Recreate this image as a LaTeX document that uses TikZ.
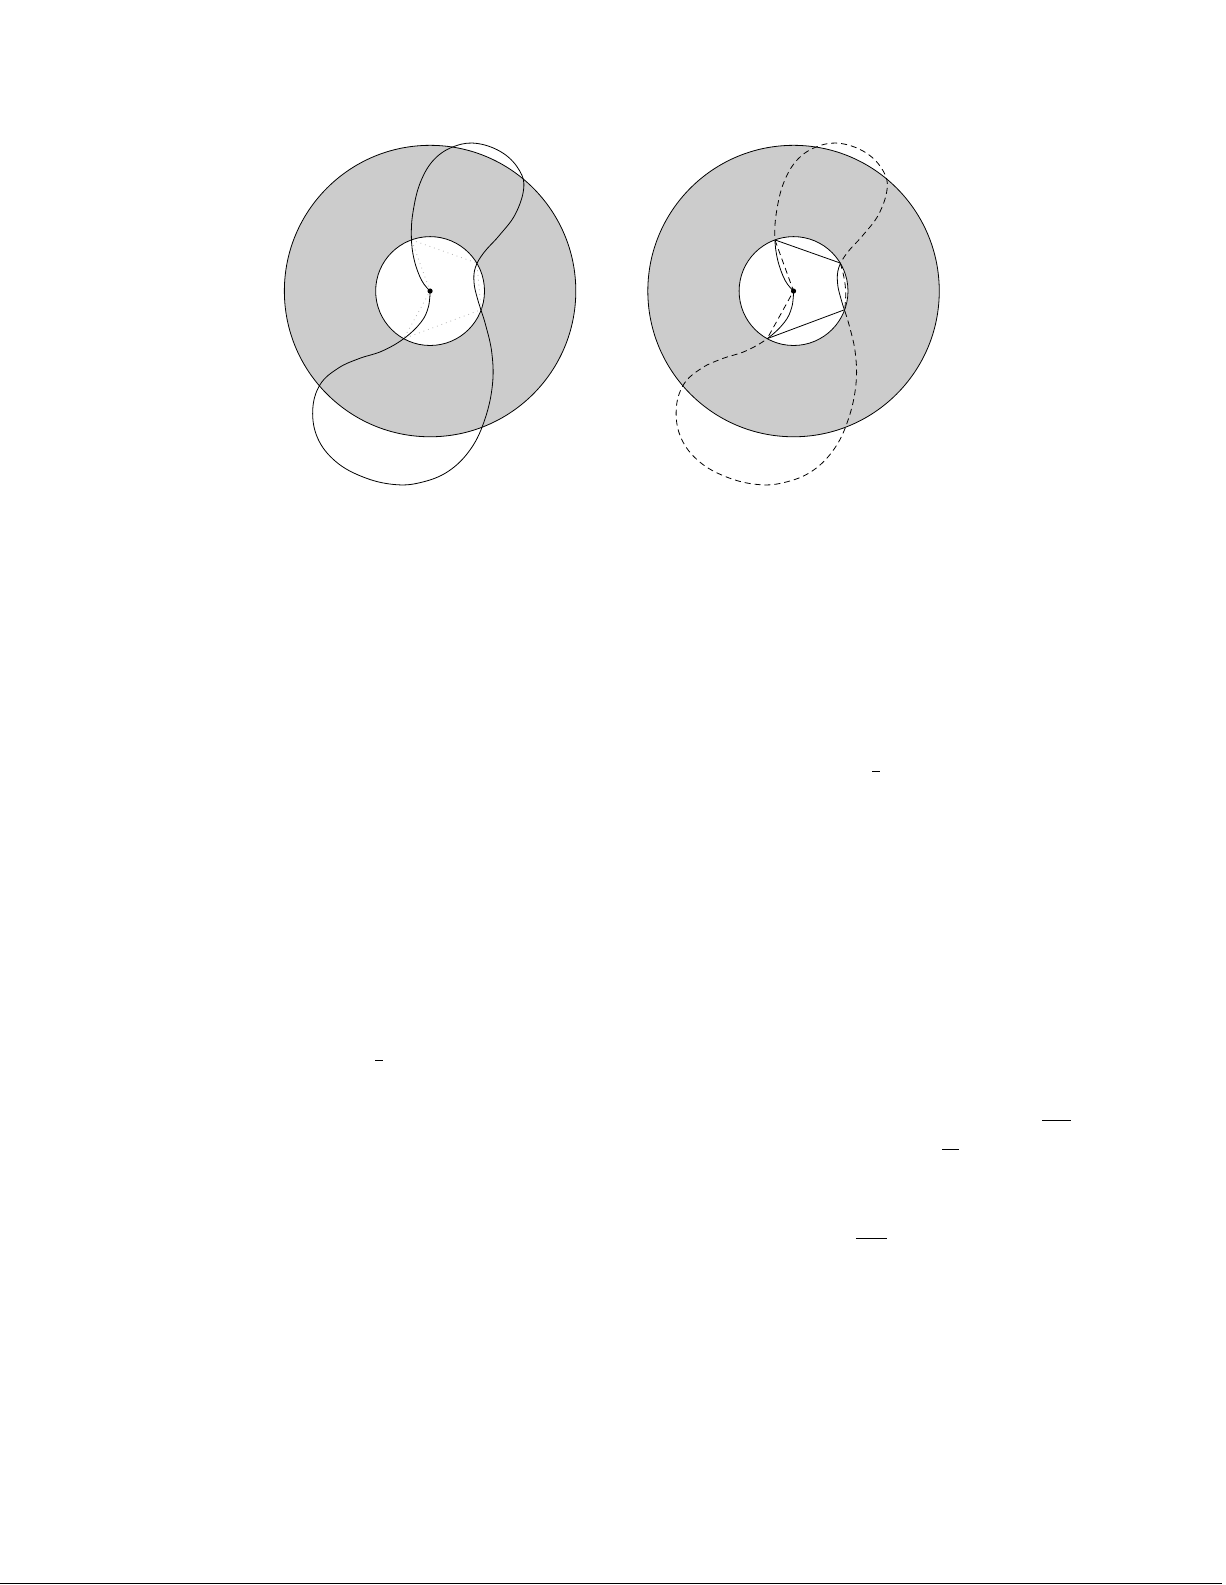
\documentclass[tikz,border=0pt]{standalone}
\definecolor{ringgray}{gray}{0.8}
% the closed curve through the centre, drawn around each annulus
\newcommand{\windcurve}{plot[smooth, tension=0.65] coordinates {(0,0) (-0.15,0.19) (-0.28,0.55) (-0.33,0.95) (-0.30,1.40) (-0.17,1.92) (0.08,2.33) (0.45,2.56) (0.85,2.60) (1.29,2.43) (1.58,2.12) (1.65,1.80) (1.50,1.35) (1.22,0.98) (0.95,0.68) (0.80,0.42) (0.775,0.15) (0.84,-0.15) (0.98,-0.60) (1.09,-1.10) (1.10,-1.65) (0.97,-2.25) (0.72,-2.78) (0.32,-3.18) (-0.18,-3.38) (-0.65,-3.41) (-1.18,-3.28) (-1.66,-3.01) (-1.98,-2.60) (-2.07,-2.10) (-1.94,-1.65) (-1.62,-1.36) (-1.25,-1.19) (-0.85,-1.06) (-0.465,-0.84) (-0.16,-0.55) (-0.03,-0.28) (0,0)}}
\begin{document}
\begin{tikzpicture}[line join=round,
    annulus/.style={draw, fill=ringgray},
    hole/.style={draw, fill=white},
    ghost/.style={draw=gray!60, dotted},
    trace/.style={dash pattern=on 3pt off 2pt}]
    \useasboundingbox (-7.585,-22.82) rectangle (14.02,5.133);
    % left annulus
    \coordinate (lO) at (0,0);
    \coordinate (lA) at (110:0.96);
    \coordinate (lB) at (31:0.96);
    \coordinate (lC) at (-20:0.96);
    \coordinate (lD) at (-119:0.96);
    \path[annulus] (lO) circle (2.57);
    \path[hole] (lO) circle (0.96);
    \draw[ghost] (lA) -- (lB) -- (lC) -- (lD) -- (lO) -- cycle;
    \draw \windcurve;
    \fill (lO) circle (1.3pt);
    % right annulus
    \begin{scope}[shift={(6.41,0)}]
        \coordinate (rO) at (0,0);
        \coordinate (rA) at (110:0.96);
        \coordinate (rB) at (31:0.96);
        \coordinate (rC) at (-20:0.96);
        \coordinate (rD) at (-119:0.96);
        \path[annulus] (rO) circle (2.57);
        \draw[trace] \windcurve;
        \path[hole] (rO) circle (0.96);
        \begin{scope}
            \clip (rO) circle (0.96);
            \draw \windcurve;
        \end{scope}
        \draw (rA) -- (rB) (rC) -- (rD);
        \draw[trace] (rA) -- (rO) -- (rD) (rB) to[bend left=12] (rC);
        \fill (rO) circle (1.3pt);
    \end{scope}
    % leftover rules of the page
    \draw (7.80,-8.47) -- (7.94,-8.47);
    \draw (-0.97,-13.56) -- (-0.83,-13.56);
    \draw (10.80,-14.62) -- (11.31,-14.62);
    \draw (9.03,-15.13) -- (9.33,-15.13);
    \draw (7.51,-16.70) -- (8.06,-16.70);
    \draw[line width=0.6pt] (-7.585,-22.80) -- (13.97,-22.80);
\end{tikzpicture}
\end{document}
